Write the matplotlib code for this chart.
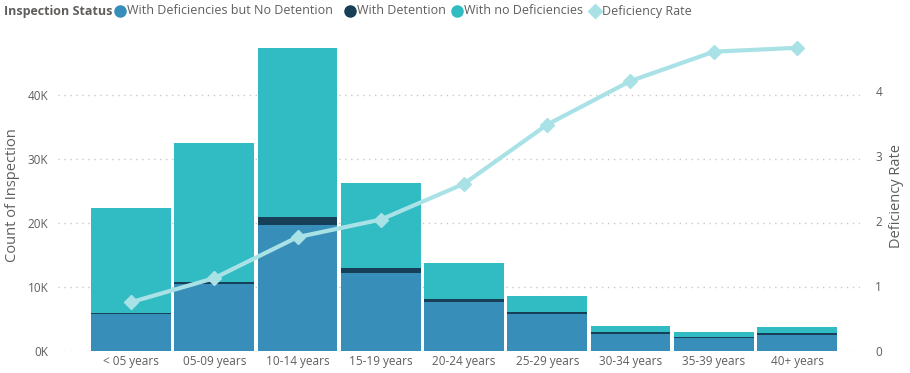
import matplotlib.pyplot as plt
from matplotlib.lines import Line2D
import numpy as np

plt.rcParams['font.family'] = ['Open Sans', 'DejaVu Sans']

# data
categories = ["< 05 years", "05-09 years", "10-14 years", "15-19 years", "20-24 years",
              "25-29 years", "30-34 years", "35-39 years", "40+ years"]
with_def_no_det = [5800, 10500, 19700, 12200, 7650, 5800, 2650, 2000, 2500]
with_detention = [100, 350, 1200, 800, 500, 350, 300, 200, 350]
with_no_def = [16400, 21600, 26400, 13200, 5650, 2450, 950, 700, 950]
deficiency_rate = [0.75, 1.12, 1.75, 2.02, 2.57, 3.48, 4.15, 4.60, 4.66]

c_blue = "#378EB8"
c_dark = "#183F58"
c_teal = "#31BBC2"
c_line = "#A9E2E6"
grey = "#605E5C"

W, H = 910, 373
fig = plt.figure(figsize=(W / 100, H / 100), dpi=100)
ax = fig.add_axes([58 / W, 22 / H, 802 / W, 311 / H])
ax2 = ax.twinx()

x = np.arange(len(categories))
bw = 0.96
b1 = np.array(with_def_no_det)
b2 = np.array(with_detention)
b3 = np.array(with_no_def)
ax.bar(x, b1, bw, color=c_blue, zorder=2)
ax.bar(x, b2, bw, bottom=b1, color=c_dark, zorder=2)
ax.bar(x, b3, bw, bottom=b1 + b2, color=c_teal, zorder=2)

ax.set_xlim(-0.877, 8.757)
ax.set_ylim(0, 48600)
ax.set_yticks([0, 10000, 20000, 30000, 40000])
ax.set_yticklabels(["0K", "10K", "20K", "30K", "40K"])
ax.set_xticks(x)
ax.set_xticklabels(categories)
ax.grid(axis='y', linestyle=(0, (1, 3.3)), color="#C8C8C8", linewidth=1, zorder=0)
ax.set_axisbelow(True)

ax2.plot(x, deficiency_rate, color=c_line, linewidth=3, marker='D', markersize=7,
         zorder=5)
ax2.set_ylim(0, 4.78)
ax2.set_yticks([0, 1, 2, 3, 4])

for a in (ax, ax2):
    for s in a.spines.values():
        s.set_visible(False)
    a.tick_params(length=0, colors=grey, labelsize=8.5)
ax.tick_params(axis='y', pad=7)
ax.tick_params(axis='x', pad=3)
ax2.tick_params(axis='y', pad=11)

ax.set_ylabel("Count of Inspection", fontsize=10.5, color=grey, va='center')
ax.yaxis.set_label_coords((13 - 58) / 802, 0.5)
ax2.set_ylabel("Deficiency Rate", fontsize=10.5, color=grey, va='center')
ax2.yaxis.set_label_coords((897 - 58) / 802, 0.5)

# legend across the top, placed item by item
ly = 1 - 11 / H
fig.text(4 / W, ly, "Inspection Status", fontsize=9, fontweight='bold',
         color=grey, va='center', ha='left')
legend_items = [
    ("With Deficiencies but No Detention", c_blue, 'o', 120),
    ("With Detention", c_dark, 'o', 350),
    ("With no Deficiencies", c_teal, 'o', 457),
    ("Deficiency Rate", c_line, 'D', 595),
]
for label, col, mk, px in legend_items:
    fig.add_artist(Line2D([px / W], [ly], marker=mk, color=col, linestyle='',
                          markersize=8 if mk == 'o' else 7, transform=fig.transFigure))
    fig.text((px + 7) / W, ly, label, fontsize=9, color=grey, va='center', ha='left')

fig.savefig("out.png", dpi=100)
